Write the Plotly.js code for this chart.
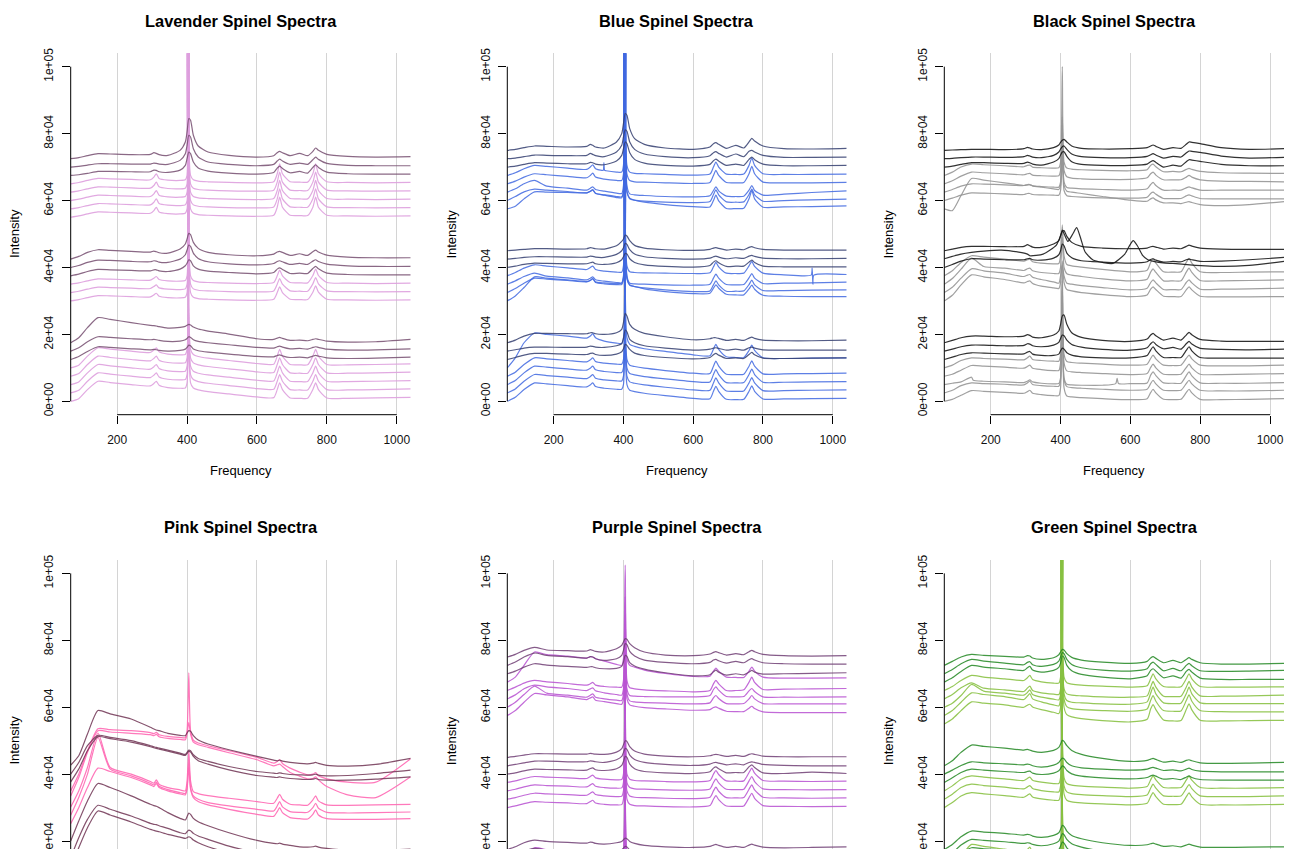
<!DOCTYPE html>
<html><head><meta charset="utf-8">
<script src="https://cdn.plot.ly/plotly-3.0.1.min.js"></script>
<style>html,body{margin:0;padding:0;background:#fff;overflow:hidden}#chart{width:1293px;height:849px}</style>
</head><body><div id="chart"></div>
<script>
// ---------------- DATA (intensities in thousands) ----------------
const freq = [67, 90, 115, 145, 180, 240, 295, 305, 312, 320, 345, 380, 395, 400, 405, 410, 418, 432, 460, 520, 600, 648, 658, 665, 673, 695, 722, 745, 760, 768, 776, 800, 860, 940, 1040];
const yTickVals = [0, 20000, 40000, 60000, 80000, 100000];
const yTickText = ['0e+00', '2e+04', '4e+04', '6e+04', '8e+04', '1e+05'];
const xTickVals = [200, 400, 600, 800, 1000];
const panelTitles = ['Lavender Spinel Spectra', 'Blue Spinel Spectra', 'Black Spinel Spectra', 'Pink Spinel Spectra', 'Purple Spinel Spectra', 'Green Spinel Spectra'];

// Lavender
const lavTopDarkA = [0,0.3,0.9,1.5,1.4, 1.2,1.3,1.8,1.6,1.2, 1.0,2.5,5.0,8.0,12.0, 11.5,7.0,3.8,2.0,1.0, 0.5,0.9,1.8,2.2,1.8, 0.9,1.6,0.9,2.2,3.2, 2.5,1.3,0.7,0.5,0.6];
const lavTopDarkB = [0,0.2,0.6,1.0,1.0, 0.9,0.9,1.2,1.1,0.9, 0.8,2.0,4.0,6.5,9.5, 9.0,5.5,3.0,1.5,0.8, 0.4,0.8,1.8,2.4,1.8, 0.8,1.2,0.8,2.2,3.0, 2.3,1.1,0.5,0.4,0.4];
const lavTopDarkC = [0,0.2,0.6,1.2,1.2, 1.1,1.1,1.6,1.5,1.1, 0.9,1.6,3.0,5.0,7.0, 6.5,4.0,2.2,1.3,0.7, 0.4,0.9,2.2,2.8,2.1, 0.8,1.2,0.7,2.4,3.2, 2.4,1.0,0.5,0.4,0.4];
const lavTopLight = [0,0.4,1.0,1.6,1.5, 1.3,1.2,2.0,3.0,1.6, 1.1,1.0,1.2,2.5,250, 2.5,1.2,0.8,0.6,0.4, 0.3,0.6,3.0,6.0,3.0, 0.6,0.5,0.5,3.0,6.0, 3.0,0.6,0.4,0.3,0.4];
const lavMidDarkA = [0,0.8,2.0,2.8,2.6, 2.3,2.1,2.4,2.2,1.9, 1.8,3.0,4.5,6.0,7.7, 7.3,5.0,3.2,2.0,1.3, 1.0,1.5,2.1,2.3,2.0, 1.1,1.6,1.1,2.2,2.7, 2.1,1.2,0.6,0.4,0.4];
const lavMidDarkB = [0,0.6,1.5,2.2,2.1, 1.8,1.7,2.0,1.9,1.6, 1.5,2.5,3.8,5.2,6.7, 6.3,4.3,2.7,1.7,1.1, 0.8,1.2,1.8,2.0,1.7, 0.9,1.2,0.9,1.9,2.3, 1.8,1.0,0.5,0.3,0.3];
const lavMidDarkC = [0,0.5,1.3,1.9,1.8, 1.6,1.5,1.8,1.8,1.5, 1.3,2.0,3.0,3.8,4.8, 4.5,3.0,2.0,1.4,1.0, 0.6,1.0,2.0,2.4,1.9, 0.7,0.8,0.7,2.2,2.8, 2.1,0.8,0.4,0.3,0.3];
const lavMidLight = [0,0.4,1.0,1.6,1.5, 1.3,1.2,1.8,2.3,1.4, 1.0,0.9,1.1,2.5,250, 2.5,1.1,0.7,0.5,0.3, 0.2,0.5,2.5,4.2,2.5, 0.5,0.4,0.4,2.6,4.5, 2.6,0.5,0.3,0.2,0.3];
const lavBotDarkA = [0,1.5,4.5,7.5,7.0, 6.0,5.2,5.1,5.0,4.8, 4.4,4.6,4.9,5.2,5.5, 5.3,4.7,4.1,3.5,2.6, 1.2,1.0,1.4,1.6,1.3, 0.7,0.8,0.6,1.0,1.2, 1.0,0.5,0.2,0.3,1.0];
const lavBotDarkB = [0,1.0,2.8,4.3,4.1, 3.7,3.4,3.5,3.4,3.2, 2.9,3.0,3.4,3.8,4.3, 4.1,3.4,2.9,2.5,1.9, 1.1,0.9,1.3,1.5,1.2, 0.7,0.8,0.6,1.1,1.3, 1.1,0.6,0.3,0.4,0.7];
const lavBotDarkC = [0,0.9,2.4,3.8,3.6, 3.2,2.9,3.0,2.9,2.7, 2.5,2.7,3.1,3.6,4.3, 4.1,3.1,2.6,2.2,1.6, 0.9,0.8,1.2,1.4,1.1, 0.6,0.7,0.5,1.0,1.2, 1.0,0.5,0.3,0.4,0.7];
const lavBotLight = [0,0.8,3.5,6.0,5.6, 5.0,4.6,5.3,6.0,4.8, 4.1,3.9,4.0,5.5,250, 5.5,4.0,3.4,2.9,2.2, 1.3,1.1,3.5,5.5,3.5, 1.0,0.9,0.9,3.5,5.5, 3.5,1.0,0.9,1.0,1.2];
const lavenderOffsets = [72.5,70,67.5,65,62.5,60,57.5,55, 42.5,40,37.5,35,32.5,30, 17.5,15,12.5,10,7.5,5,2.5,0];
const lavenderShapes = [lavTopDarkA,lavTopDarkB,lavTopDarkC,lavTopLight,lavTopLight,lavTopLight,lavTopLight,lavTopLight,
  lavMidDarkA,lavMidDarkB,lavMidDarkC,lavMidLight,lavMidLight,lavMidLight,
  lavBotDarkA,lavBotDarkB,lavBotDarkC,lavBotLight,lavBotLight,lavBotLight,lavBotLight,lavBotLight];
const lavenderTones = ['d','d','d','l','l','l','l','l','d','d','d','l','l','l','d','d','d','l','l','l','l','l'];

// Blue
const blueTopDarkA = [0,0.3,0.8,1.3,1.2, 1.0,1.2,1.8,1.5,1.0, 0.7,2.5,5.0,8.0,11.0, 10.5,6.5,3.5,1.8,0.7, 0.3,1.0,2.0,2.3,1.8, 0.6,1.5,0.7,2.5,3.6, 2.8,1.3,0.5,0.4,0.6];
const blueTopDarkB = [0,0.2,0.6,1.1,1.0, 0.9,1.0,1.6,1.3,0.9, 0.6,2.0,4.0,6.5,8.6, 8.2,5.0,2.8,1.4,0.6, 0.3,0.9,1.8,2.1,1.6, 0.5,1.4,0.6,2.2,2.5, 2.0,1.0,0.4,0.4,0.5];
const blueTopDarkC = [0,0.3,0.8,1.3,1.2, 1.0,1.0,1.4,1.3,0.9, 0.7,1.8,3.5,5.5,7.5, 7.0,4.3,2.3,1.2,0.5, 0.3,0.8,1.9,2.4,1.8, 0.5,0.9,0.5,2.3,3.0, 2.2,0.9,0.4,0.4,0.5];
const blueTopSpikeFreq = [67,90,115,145,180,240,295,305,312,320,338,342,344,346,350,380,395,400,405,410,418,432,460,520,600,648,658,665,673,695,722,745,760,768,776,800,860,940,1040];
const blueTopSpikeVals = [67.5,68.3,69.5,70.5,70.2,69.7,69.3,70.0,70.7,69.5,69.0,69.0,71.3,69.0,68.9,68.5,68.5,70.5,250,70.5,68.5,68.1,68.0,67.8,67.6,67.9,70.0,71.5,70.0,67.9,67.8,67.9,70.5,72.7,70.5,68.0,67.8,67.8,67.9];
const blueTopLightA = [0,0.8,2.0,3.0,2.7, 2.2,1.8,2.5,3.2,2.0, 1.4,1.0,1.0,3.0,250, 3.0,1.0,0.6,0.5,0.3, 0.1,0.4,2.5,4.0,2.5, 0.4,0.3,0.4,3.0,5.2, 3.0,0.5,0.3,0.3,0.4];
const blueTopLightB = [0,1.0,2.5,3.5,1.8, 1.2,0.6,1.2,1.6,0.8, 0.3,-0.3,-0.4,2.0,250, 2.0,-0.5,-0.8,-1.0,-1.3, -1.4,-1.1,0.5,1.6,0.4, -1.2,-1.3,-1.2,0.6,2.0, 0.5,-0.9,-0.6,-0.1,0.4];
const blueTopLightC = [0,1.2,2.6,3.4,3.1, 2.7,2.3,2.8,3.3,2.2, 1.6,0.9,0.8,3.0,250, 3.0,0.5,0.1,-0.2,-0.5, -0.6,-0.3,1.8,3.2,1.7, -0.4,-0.5,-0.4,1.8,3.4, 1.7,-0.2,0.0,0.2,0.4];
const blueTopLightD = [0,0.8,3.0,5.1,5.0, 4.9,4.8,5.2,5.6,4.6, 4.2,3.7,3.6,5.0,250, 5.0,3.2,2.6,2.0,1.3, 0.7,0.6,2.5,4.1,2.4, 0.1,0.1,0.2,3.0,5.5, 3.0,0.5,0.6,0.7,0.9];
const blueMidDarkA = [0,0.2,0.4,0.6,0.6, 0.5,0.6,0.9,0.8,0.6, 0.5,1.5,2.8,3.5,4.7, 4.4,3.0,1.6,0.8,0.3, 0.1,0.4,0.8,0.9,0.7, 0.2,0.5,0.3,1.0,1.2, 0.9,0.4,0.2,0.2,0.2];
const blueMidDarkB = [0,0.2,0.5,0.7,0.7, 0.6,0.6,0.9,0.8,0.6, 0.5,1.4,2.5,3.4,4.7, 4.4,2.8,1.5,0.7,0.2, 0.0,0.3,0.7,0.9,0.6, 0.1,0.4,0.2,0.9,1.1, 0.8,0.3,0.1,0.1,0.2];
const blueMidDarkC = [0,0.4,0.9,1.3,1.2, 1.1,1.1,1.4,1.6,1.1, 0.9,1.4,2.3,3.2,4.2, 4.0,2.6,1.5,0.8,0.3, 0.1,0.6,1.6,2.0,1.4, 0.3,0.4,0.4,1.6,2.2, 1.5,0.4,0.2,0.2,0.2];
const blueMidSpikeFreq = [67,90,115,145,180,240,295,305,312,320,345,380,395,400,405,410,418,432,460,520,600,648,658,665,673,695,722,745,760,768,776,800,860,938,941,943,946,1040];
const blueMidSpikeVals = [37.5,38.5,39.8,40.8,40.4,39.9,39.4,40.0,40.4,39.4,38.9,38.6,38.6,40.5,250,40.5,38.7,38.5,38.4,38.3,38.2,38.4,40.2,41.5,40.2,38.3,38.2,38.3,40.5,41.8,40.3,38.3,37.8,37.7,39.8,35.0,37.7,37.9];
const blueMidLightA = [0,1.0,2.3,3.3,2.4, 1.9,1.3,1.8,2.2,1.3, 0.9,0.5,0.4,2.5,250, 2.5,0.3,0.1,0.0,-0.2, -0.3,0.0,1.8,3.0,1.8, -0.1,-0.2,-0.1,1.9,3.2, 1.8,0.2,0.3,0.4,0.6];
const blueMidLightB = [0,1.2,2.8,4.3,4.0, 3.6,3.2,3.6,4.1,3.0, 2.6,2.4,2.4,4.0,250, 4.0,2.2,1.8,1.4,0.8, 0.3,0.5,2.3,3.5,2.3, 0.4,0.4,0.5,2.4,3.7, 2.3,0.6,0.6,0.7,0.8];
const blueMidLightC = [0,1.5,4.0,7.2,6.8, 6.3,5.8,6.2,6.7,5.7, 5.4,5.2,5.3,7.0,250, 7.0,4.8,4.3,3.6,2.8, 2.2,2.3,3.8,4.8,3.8, 2.0,1.8,1.8,3.6,4.7, 3.5,1.7,1.4,1.3,1.3];
const blueBotDarkA = [0,0.8,2.0,2.8,2.8, 2.7,2.7,3.0,3.0,2.7, 2.5,3.0,4.0,6.0,8.8, 8.0,5.5,4.0,2.8,1.8, 0.9,1.2,1.5,1.5,1.3, 0.7,1.0,0.7,1.4,1.7, 1.3,0.8,0.6,0.6,0.8];
const blueBotDarkB = [0,0.4,0.9,1.2,1.2, 1.1,1.2,1.5,1.4,1.2, 1.1,1.6,2.2,3.8,6.3, 5.8,3.5,2.5,1.6,0.9, 0.3,0.6,0.9,1.0,0.8, 0.3,0.6,0.3,1.0,1.2, 0.9,0.4,0.3,0.3,0.3];
const blueBotDarkC = [0,0.6,1.3,1.8,1.8, 1.6,1.5,1.8,1.9,1.5, 1.2,1.6,2.3,3.2,4.5, 4.2,3.0,1.9,1.2,0.6, 0.2,0.6,1.4,1.8,1.3, 0.3,0.5,0.3,1.5,2.1, 1.4,0.4,0.3,0.4,0.5];
const blueBotLightX = [0,3.0,7.5,10.4,10.0, 9.5,8.9,9.5,10.2,9.0, 8.0,7.4,7.3,9.0,250, 9.0,7.0,6.4,5.7,4.9, 3.9,3.6,5.6,7.0,5.5, 3.3,3.1,3.1,5.2,6.8, 5.2,3.0,2.8,2.9,3.0];
const blueBotLight = [0,1.2,3.5,5.5,5.2, 4.7,4.3,4.9,5.5,4.4, 3.9,3.6,3.6,5.0,250, 5.0,3.3,2.9,2.4,1.7, 0.9,0.8,3.0,4.5,3.0, 0.6,0.5,0.6,3.0,4.6, 3.0,0.7,0.7,0.8,0.9];
const blueOffsets = [75,72.5,70,0,65,62.5,60,57.5, 45,42.5,40,0,35,32.5,30, 17.5,15,12.5,10,7.5,5,2.5,0];
const blueShapes = [blueTopDarkA,blueTopDarkB,blueTopDarkC,{x:blueTopSpikeFreq,y:blueTopSpikeVals},blueTopLightA,blueTopLightB,blueTopLightC,blueTopLightD,
  blueMidDarkA,blueMidDarkB,blueMidDarkC,{x:blueMidSpikeFreq,y:blueMidSpikeVals},blueMidLightA,blueMidLightB,blueMidLightC,
  blueBotDarkA,blueBotDarkB,blueBotDarkC,blueBotLightX,blueBotLight,blueBotLight,blueBotLight,blueBotLight];
const blueTones = ['d','d','d','l','l','l','l','l','d','d','d','l','l','l','l','d','d','d','l','l','l','l','l'];

// Black
const blackTopDarkA = [0,0.1,0.2,0.3,0.3, 0.2,0.5,0.9,0.7,0.4, 0.2,0.8,1.6,2.4,3.0, 3.3,2.5,1.3,0.6,0.4, 0.5,0.8,1.3,1.6,1.2, 0.3,0.8,0.6,1.8,2.5, 2.4,2.0,0.8,0.3,0.5];
const blackTopDarkB = [0,0.1,0.3,0.5,0.5, 0.4,0.6,1.0,0.8,0.5, 0.3,1.0,2.0,2.9,3.6, 3.8,2.8,1.4,0.6,0.3, 0.3,0.7,1.2,1.5,1.1, 0.2,0.7,0.5,1.7,2.3, 2.2,1.9,0.8,0.2,0.4];
const blackTopDarkC = [0,0.3,0.8,1.3,1.3, 1.1,1.1,1.5,1.3,0.9, 0.6,1.5,2.5,3.6,4.5, 4.6,3.2,1.6,0.8,0.5, 0.5,0.9,1.6,1.9,1.4, 0.0,0.6,0.3,1.6,2.2, 2.1,1.7,0.8,0.4,0.4];
const blackTopLightA = [0,1.0,2.5,3.4,3.2, 2.9,2.6,3.0,3.1,2.5, 2.3,2.2,2.3,4.0,32.5, 4.0,2.2,1.9,1.7,1.5, 1.4,1.7,3.0,3.4,2.6, 1.1,1.2,1.1,1.8,2.1, 1.8,1.2,0.8,0.7,0.6];
const blackTopLightB = [0,0.9,2.3,3.5,3.3, 3.0,2.7,3.0,3.1,2.6, 2.4,2.3,2.4,4.0,20.0, 4.0,2.1,1.7,1.5,1.3, 1.3,1.8,3.0,3.5,2.6, 1.2,1.2,1.2,2.0,2.5, 2.0,1.2,0.8,0.7,0.6];
const blackTopLightC = [0,0.8,1.8,2.5,2.4, 2.2,2.0,2.3,2.3,1.9, 1.7,1.5,1.5,3.0,15.0, 3.0,1.4,1.2,1.0,0.8, 0.6,1.0,2.3,2.9,2.0, 0.6,0.6,0.6,1.3,1.6, 1.3,0.6,0.6,0.6,0.6];
const blackTopLightD = [0,0.7,1.6,2.3,2.2, 2.0,1.8,2.1,2.1,1.8, 1.7,1.6,1.6,3.0,13.0, 3.0,1.4,1.2,1.0,0.8, 0.7,1.0,2.1,2.5,1.9, 0.6,0.6,0.6,1.4,1.7, 1.4,0.6,0.5,0.5,0.5];
const blackTopLightE = [0,-0.5,4.0,9.1,8.6, 7.8,7.0,7.1,7.2,6.9, 6.5,6.0,5.8,7.0,25.0, 7.0,5.3,5.0,4.6,3.7, 2.6,2.3,3.0,3.3,2.7, 1.8,1.8,1.6,2.0,2.2, 1.9,1.3,1.0,1.3,2.2];
const blackMidDarkA = [0,0.5,1.0,1.3,1.3, 1.2,1.3,1.8,1.5,1.1, 1.0,2.0,3.0,4.5,5.8, 6.0,4.3,2.5,1.3,0.8, 0.6,0.8,1.2,1.3,1.1, 0.5,0.8,0.6,1.3,1.7, 1.4,0.8,0.5,0.4,0.4];
const blackOddFreq = [67,90,115,145,180,230,280,305,312,350,388,400,405,412,421,435,446,458,470,493,520,550,584,598,608,620,635,650,666,700,722,770,860,940,1040];
const blackOddVals = [42.6,43.3,44.0,44.5,44.9,45.2,44.6,44.0,43.5,44.0,46.7,49.5,51.2,49.6,47.8,50.0,51.9,48.6,44.7,42.2,41.5,41.2,44.0,46.6,48.0,46.5,43.6,42.3,41.8,41.3,41.2,40.8,40.3,40.6,41.8];
const blackMidDarkC = [0,0.9,1.9,2.6,2.5, 2.3,2.3,2.6,2.7,2.3, 2.2,2.8,3.8,5.0,7.0, 6.5,4.3,2.9,2.0,1.6, 1.3,1.7,2.4,2.6,2.2, 1.6,1.8,1.7,2.3,2.5, 2.3,1.8,1.9,2.3,3.0];
const blackMidLightA = [0,1.5,4.0,6.0,5.6, 5.0,4.4,4.8,5.0,4.2, 3.8,3.6,3.7,6.0,15.2, 6.0,3.4,3.0,2.6,1.9, 1.2,1.7,4.0,5.1,3.8, 1.2,1.1,1.2,4.0,5.2, 3.8,1.2,1.0,1.1,1.2];
const blackMidLightB = [0,1.7,4.5,7.8,5.3, 4.8,4.1,4.6,4.8,4.0, 3.5,3.2,3.2,5.0,14.0, 5.0,3.1,2.7,2.3,1.6, 1.0,1.5,3.6,4.6,3.5, 1.0,1.0,1.0,3.6,4.8, 3.5,1.1,1.0,1.1,1.3];
const blackMidLightC = [0,1.6,4.3,7.1,6.5, 5.8,4.8,5.2,5.4,4.6, 3.9,3.2,2.8,5.0,8.3, 5.0,2.8,2.5,2.1,1.5, 0.8,1.3,3.0,3.8,2.9, 0.9,0.9,0.9,3.0,3.8, 2.9,1.0,1.0,1.1,1.3];
const blackMidLightD = [0,1.7,4.8,7.8,7.2, 6.4,5.4,5.8,6.0,5.2, 4.4,3.9,3.7,5.5,12.0, 5.5,3.4,3.0,2.5,1.9, 1.3,1.8,3.5,4.2,3.4, 1.4,1.3,1.3,3.3,4.2, 3.3,1.4,1.2,1.2,1.3];
const blackBotDarkA = [0,0.7,1.5,2.0,2.0, 1.8,2.0,2.4,2.2,1.7, 1.5,2.3,3.5,5.5,8.0, 8.3,5.5,3.0,1.6,0.7, 0.4,1.1,2.3,2.8,2.1, 0.8,1.4,0.8,2.3,3.1, 2.4,1.0,0.5,0.4,0.4];
const blackBotDarkB = [0,0.6,1.3,1.8,1.8, 1.6,1.7,2.2,2.1,1.6, 1.3,1.8,2.6,3.8,4.8, 4.6,3.3,2.0,1.2,0.5, 0.3,1.0,2.2,2.8,2.0, 0.7,1.1,0.6,2.2,2.9, 2.1,0.8,0.5,0.4,0.6];
const blackBotDarkC = [0,0.7,1.5,2.0,1.9, 1.7,1.7,2.2,2.4,1.6, 1.2,1.2,1.6,2.6,3.4, 3.1,2.0,1.3,0.8,0.5, 0.5,1.2,2.8,3.8,2.6, 0.6,0.6,0.6,2.7,3.8, 2.6,0.6,0.4,0.4,0.4];
const blackBotLightA = [0,0.8,2.2,3.0,2.8, 2.6,2.4,3.0,3.5,2.5, 2.2,2.0,2.0,4.0,25.0, 4.0,1.9,1.6,1.4,1.1, 0.8,1.1,2.8,3.8,2.7, 0.8,0.7,0.8,2.8,3.8, 2.7,0.8,0.6,0.6,0.8];
const blackBotLightB = [0,0.6,1.8,3.2,3.0, 2.7,2.4,2.9,3.3,2.4, 2.0,1.7,1.7,4.0,33.0, 4.0,1.6,1.3,1.1,0.8, 0.5,0.8,2.6,3.6,2.5, 0.6,0.5,0.6,2.6,3.6, 2.5,0.6,0.5,0.6,0.8];
const blackSpikeFreq = [67,90,115,145,150,180,240,295,305,312,320,345,380,395,400,405,410,418,432,460,520,558,562,566,600,648,658,665,673,695,722,745,760,768,776,800,860,940,1040];
const blackSpikeVals = [5.0,5.4,5.8,7.2,6.3,6.0,5.8,5.6,6.0,6.4,5.8,5.4,5.2,5.3,7.0,36.0,7.0,5.1,4.9,4.8,4.8,5.3,6.9,5.3,5.3,5.5,7.8,8.8,7.7,5.5,5.4,5.4,7.7,8.8,7.6,5.5,5.4,5.4,5.6];
const blackOffsets = [75,72.5,70,67.5,65,62.5,60,57.5, 45,0,40,37.5,35,32.5,30, 17.5,15,12.5,10,7.5,0,2.5,0];
const blackShapes = [blackTopDarkA,blackTopDarkB,blackTopDarkC,blackTopLightA,blackTopLightB,blackTopLightC,blackTopLightD,blackTopLightE,
  blackMidDarkA,{x:blackOddFreq,y:blackOddVals},blackMidDarkC,blackMidLightA,blackMidLightB,blackMidLightC,blackMidLightD,
  blackBotDarkA,blackBotDarkB,blackBotDarkC,blackBotLightA,blackBotLightB,{x:blackSpikeFreq,y:blackSpikeVals},blackBotLightA,blackBotLightB];
const blackTones = ['d','d','d','l','l','l','l','l','d','d','d','l','l','l','l','d','d','d','l','l','l','l','l'];

// Pink (absolute values)
const pinkD1 = [42.7,45.5,52,59.0,58.0, 56.5,54.0,53.5,53.2,53.0, 52.2,51.6,51.5,52.3,53.0, 52.8,51.5,50.2,49.0,47.3, 45.3,44.2,44.0,44.2,43.9, 43.5,43.2,43.1,43.3,43.5, 43.2,42.6,42.4,42.9,44.7];
const pinkD2 = [40.0,43.5,48.5,51.6,51.0, 50.0,48.5,48.2,48.0,47.8, 47.2,46.3,45.9,46.5,47.2, 47.0,45.8,44.7,43.8,42.3, 40.8,40.3,40.2,40.4,40.2, 39.9,39.8,39.7,39.8,40.0, 39.7,39.5,39.6,40.2,41.2];
const pinkD3 = [37.7,41.5,47,51.2,50.6, 49.6,48.2,47.9,47.7,47.5, 46.9,46.0,45.6,46.2,46.8, 46.6,45.3,44.0,43.0,41.3, 39.6,39.1,39.0,39.2,39.0, 38.7,38.5,38.4,38.5,38.7, 38.4,38.2,38.2,38.5,39.2];
const pinkP1 = [35.0,40,47,53.6,53.3, 53.0,52.4,52.1,52.5,51.8, 51.3,51.0,50.9,53,70.3, 53,50.2,49.3,48.5,47.0, 45.0,43.3,43.8,44.3,43.2, 41.8,40.6,39.8,40.0,40.5, 39.5,38.6,37.6,37.6,44.6];
const pinkP2 = [33.5,39,46.5,53.0,52.6, 52.2,51.8,51.5,51.9,51.2, 50.7,50.4,50.3,52,55.5, 52,49.6,48.8,48.0,46.4, 44.3,42.5,42.8,43.0,42.3, 40.5,39.4,38.6,38.7,39.2, 38.3,36.3,33.8,33.0,39.2];
const pinkP3 = [30.2,35,42,52.3,42.0, 40.0,37.8,37.3,38.3,37.0, 36.0,35.3,35.0,38,47, 38,34.8,34.2,33.6,32.8, 31.8,31.3,32.8,34.0,32.5, 31.0,30.8,30.7,32.3,33.5, 32.0,30.8,30.7,30.8,31.0];
const pinkP4 = [27.7,33,40,51.0,41.5, 39.5,37.3,36.8,37.6,36.4, 35.4,34.5,34.2,36,44, 36,33.5,32.5,31.5,30.5, 29.5,29.0,30.5,31.8,30.2, 28.8,28.6,28.6,30.0,31.3, 29.8,28.6,28.4,28.5,28.7];
const pinkP5 = [25.2,30,36,41.8,40.8, 39.0,36.8,36.3,37.2,36.0, 35.0,34.1,33.8,35.5,42, 35.5,33.0,31.8,30.8,29.5, 28.0,27.4,28.8,30.0,28.5, 27.0,26.7,26.6,28.0,29.3, 27.8,26.7,26.5,26.5,26.7];
const pinkD4 = [20.0,26,32,37.2,36.0, 33.5,31.0,30.6,30.4,30.0, 28.5,26.8,26.3,27.3,28.4, 28.0,26.8,25.8,24.6,22.5, 20.2,19.3,19.2,19.4,19.1, 18.7,18.3,18.2,18.3,18.5, 18.2,17.8,17.3,17.2,17.6];
const pinkD5 = [15.0,21,26.5,30.7,29.5, 27.5,25.3,25.0,24.9,24.6, 23.8,22.5,22.2,22.8,23.3, 23.1,22.3,21.5,20.5,18.5, 16.5,15.6,15.5,15.7,15.4, 15.0,14.7,14.5,14.6,14.8, 14.5,14.1,13.6,13.4,13.6];
const pinkD6 = [12.0,18,24,29.0,27.8, 25.7,23.5,23.2,23.0,22.8, 22.0,21.2,20.8,21.0,21.3, 21.1,20.3,19.5,18.3,16.5, 14.5,13.6,13.5,13.7,13.4, 13.0,12.7,12.5,12.6,12.8, 12.5,12.1,11.6,11.4,11.5];
const pinkOffsets = [0,0,0,0,0,0,0,0,0,0,0];
const pinkShapes = [pinkD1,pinkD2,pinkD3,pinkP1,pinkP2,pinkP3,pinkP4,pinkP5,pinkD4,pinkD5,pinkD6];
const pinkTones = ['d','d','d','l','l','l','l','l','d','d','d'];

// Purple
const purTopDarkA = [0,0.8,2.0,2.9,2.1, 1.9,1.8,2.2,2.0,1.7, 1.5,2.5,3.5,4.5,5.5, 5.3,4.0,2.8,1.5,0.6, 0.4,0.9,1.4,1.6,1.3, 0.6,1.0,0.7,1.6,2.0, 1.6,0.8,0.4,0.3,0.4];
const purTopDarkB = [0,1.0,2.5,3.7,3.0, 2.6,2.2,2.6,2.5,2.0, 1.5,2.0,3.0,4.5,6.5, 6.2,4.2,2.8,1.6,0.9, 0.5,0.9,1.6,1.8,1.4, 0.7,1.2,0.8,1.7,2.0, 1.6,0.8,0.5,0.4,0.4];
const purTopDarkC = [0,0.8,2.0,3.0,2.6, 2.2,1.9,2.1,2.1,1.8, 1.5,1.6,2.2,3.5,5.5, 5.2,3.3,2.3,1.4,0.3, -0.6,-0.3,0.6,1.1,0.5, -0.4,0.0,-0.3,0.5,1.0, 0.5,-0.1,0.0,0.1,0.3];
const purTopLightA = [0,1.5,5.0,9.0,8.2, 7.8,7.2,7.6,7.5,7.0, 6.3,5.3,5.0,7.0,35.0, 7.0,5.0,4.5,3.6,2.6, 1.7,1.8,3.3,4.2,3.3, 1.5,1.4,1.4,3.3,4.5, 3.3,1.5,1.2,1.2,1.3];
const purTopLightB = [0,1.0,2.2,3.0,2.6, 2.1,1.6,2.0,2.4,1.6, 1.2,1.0,1.0,3.0,28.0, 3.0,0.8,0.5,0.2,-0.1, -0.4,0.0,2.0,3.0,2.0, 0.0,0.0,0.2,2.5,4.0, 2.4,0.3,0.4,0.5,0.6];
const purTopLightC = [0,1.2,3.0,4.1,3.6, 3.1,2.5,3.0,3.3,2.4, 1.8,1.3,1.1,3.0,25.0, 3.0,1.0,0.8,0.7,0.6, 0.6,1.0,2.8,3.6,2.6, 0.7,0.6,0.7,2.4,3.1, 2.2,0.6,0.5,0.5,0.6];
const purTopLightD = [0,1.5,3.8,6.3,4.2, 3.6,3.0,3.6,4.0,3.0, 2.5,2.1,2.0,4.0,22.0, 4.0,1.9,1.6,1.4,1.2, 1.0,1.3,2.8,3.5,2.6, 1.1,1.0,1.1,2.5,3.5, 2.5,1.1,1.0,1.0,1.0];
const purTopLightE = [0,1.5,4.0,6.6,6.2, 5.6,4.8,5.3,5.6,4.6, 4.2,3.6,3.4,5.0,20.0, 5.0,3.2,2.8,2.4,2.0, 1.6,1.8,2.4,2.6,2.2, 1.3,1.2,1.2,2.2,2.8, 2.1,1.1,0.9,0.9,0.9];
const purMidDarkA = [0,0.3,0.7,1.1,1.1, 1.0,1.0,1.2,1.1,1.0, 0.9,1.6,2.6,3.8,5.0, 4.8,3.2,1.9,1.0,0.4, 0.2,0.5,0.8,0.9,0.8, 0.3,0.6,0.3,0.9,1.1, 0.9,0.4,0.2,0.2,0.2];
const purMidDarkB = [0,0.4,0.9,1.4,1.4, 1.2,1.2,1.5,1.4,1.2, 1.0,1.8,2.8,4.0,5.2, 4.9,3.2,1.9,1.0,0.4, 0.1,0.5,0.9,1.0,0.8, 0.3,0.6,0.3,1.0,1.2, 1.0,0.4,0.1,0.0,0.0];
const purMidDarkC = [0,0.4,1.0,1.5,1.4, 1.3,1.2,1.7,1.9,1.3, 1.1,1.6,2.6,3.8,5.3, 5.0,3.0,1.6,0.8,0.4, 0.2,0.7,1.8,2.2,1.6, 0.4,0.5,0.5,2.2,2.8, 2.0,0.4,0.2,0.6,0.2];
const purMidLight = [0,0.5,1.2,1.8,1.6, 1.4,1.2,1.8,2.2,1.4, 1.0,0.8,0.9,2.5,45.0, 2.5,1.0,0.6,0.5,0.3, 0.2,0.6,2.5,3.6,2.4, 0.5,0.4,0.5,3.0,4.3, 2.8,0.6,0.4,0.3,0.4];
const purBotDark = [0,0.8,2.0,2.8,2.4, 2.1,1.9,2.2,2.1,1.8, 1.6,2.0,2.4,2.9,3.4, 3.2,2.4,1.8,1.2,0.8, 0.6,0.9,1.3,1.5,1.2, 0.6,0.9,0.6,1.3,1.6, 1.3,0.7,0.5,0.6,0.8];
const purBotLight = [0,1.5,4.5,8.0,7.4, 6.5,5.8,6.4,6.8,5.7, 5.0,4.6,4.6,6.0,60.0, 6.0,4.5,3.8,3.2,2.4, 1.5,1.5,3.5,5.0,3.5, 1.3,1.2,1.2,3.5,5.0, 3.4,1.2,1.1,1.2,1.4];
const purpleOffsets = [75,72.5,70,67.5,65,62.5,60,57.5, 45,42.5,40,37.5,35,32.5,30, 17.5,15,12.5,10,7.5,5,2.5,0];
const purpleShapes = [purTopDarkA,purTopDarkB,purTopDarkC,purTopLightA,purTopLightB,purTopLightC,purTopLightD,purTopLightE,
  purMidDarkA,purMidDarkB,purMidDarkC,purMidLight,purMidLight,purMidLight,purMidLight,
  purBotDark,purBotDark,purBotDark,purBotLight,purBotLight,purBotLight,purBotLight,purBotLight];
const purpleTones = ['d','d','d','l','l','l','l','l','d','d','d','l','l','l','l','d','d','d','l','l','l','l','l'];

// Green
const grTopDarkA = [0,1.2,2.5,3.3,3.0, 2.7,2.5,2.9,2.8,2.2, 1.8,2.3,3.2,4.0,4.8, 4.6,3.5,2.4,1.6,1.0, 0.6,1.2,2.2,2.6,2.1, 0.8,1.5,0.8,1.8,2.3, 1.8,0.8,0.4,0.4,0.6];
const grTopDarkB = [0,1.3,3.0,4.3,3.8, 3.2,2.7,3.4,3.6,2.7, 2.2,2.8,3.8,5.0,6.3, 6.0,4.3,2.8,1.8,1.1, 0.8,1.5,3.0,3.5,2.8, 0.9,1.6,0.9,2.5,3.1, 2.4,0.9,0.7,0.8,1.0];
const grTopDarkC = [0,1.3,3.2,5.0,4.5, 4.0,3.5,4.3,4.7,3.6, 3.0,3.5,4.4,5.7,7.8, 7.4,5.0,3.4,2.3,1.5, 1.0,1.9,3.5,4.0,3.3, 1.3,1.9,1.2,3.2,3.8, 3.0,1.2,0.8,0.8,0.8];
const grTopLightA = [0,1.2,3.0,4.5,4.0, 3.5,3.0,3.8,4.5,3.3, 2.6,2.2,2.2,4.0,250, 4.0,2.3,1.9,1.6,1.3, 1.0,1.4,3.5,5.0,3.5, 1.2,1.0,1.1,3.5,5.0, 3.5,1.2,1.0,1.0,1.1];
const grTopLightB = [0,1.3,3.3,4.8,3.2, 2.7,2.2,3.2,3.8,2.5, 1.8,1.4,1.3,3.0,250, 3.0,1.5,1.1,0.9,0.6, 0.5,0.9,3.5,5.2,3.5, 0.8,0.7,0.8,3.5,5.2, 3.5,0.9,0.8,0.9,1.1];
const grTopLightC = [0,1.2,3.5,6.8,4.8, 4.2,3.6,4.4,5.2,3.8, 3.0,2.4,2.2,4.0,250, 4.0,2.0,1.5,1.3,1.0, 0.9,1.6,4.2,6.0,4.0, 1.3,1.1,1.2,4.0,6.0, 4.0,1.3,1.1,1.1,1.1];
const grTopLightD = [0,1.5,4.0,6.8,6.3, 5.7,4.8,5.8,6.6,5.0, 4.1,3.2,2.9,5.0,250, 5.0,2.7,2.1,1.8,1.5, 1.3,2.0,4.5,6.0,4.3, 1.5,1.3,1.4,4.5,6.2, 4.3,1.5,1.2,1.1,1.1];
const grTopLightE = [0,1.5,4.0,6.6,6.2, 5.7,5.0,5.6,5.9,5.1, 4.3,3.5,3.1,5.0,250, 5.0,2.8,2.1,1.6,1.0, 0.6,1.4,4.5,5.8,4.3, 1.2,0.9,1.0,4.3,6.0, 4.2,1.1,0.9,1.0,1.1];
const grMidDarkA = [0,1.5,4.0,6.2,5.8, 5.3,4.7,4.9,4.7,4.4, 4.0,4.6,5.5,6.5,7.6, 7.3,6.0,4.6,3.4,2.2, 1.3,1.6,2.0,2.2,1.9, 1.1,1.4,1.0,1.6,1.8, 1.5,0.9,0.7,0.8,1.0];
const grMidDarkB = [0,1.2,2.6,3.7,3.4, 3.1,2.8,3.0,2.9,2.5, 2.1,2.7,3.5,4.2,4.8, 4.6,3.5,2.5,1.9,1.5, 1.2,1.5,1.9,2.0,1.8, 1.1,1.3,1.0,1.5,1.8, 1.4,0.9,0.7,0.7,0.7];
const grMidDarkC = [0,1.4,3.0,4.0,3.7, 3.3,3.0,3.3,3.4,2.8, 2.4,2.8,3.5,4.2,5.0, 4.7,3.6,2.6,1.9,1.4, 1.1,1.5,2.0,2.2,1.9, 1.0,1.2,0.9,1.6,2.0, 1.5,0.9,0.7,0.7,0.7];
const grMidLight = [0,1.5,3.5,4.5,4.1, 3.6,3.1,3.7,4.1,3.2, 2.6,2.2,2.2,4.0,250, 4.0,2.2,1.7,1.4,1.1, 0.8,1.3,3.3,4.5,3.3, 1.0,0.9,1.0,3.2,4.4, 3.2,1.0,0.8,0.8,1.0];
const grBotDark = [0,1.5,3.8,5.5,5.2, 4.8,4.3,4.5,4.4,4.0, 3.6,4.2,5.0,6.0,7.2, 6.9,5.5,4.2,3.2,2.0, 1.2,1.4,1.7,1.9,1.6, 0.9,1.1,0.8,1.3,1.6, 1.3,0.7,0.6,0.7,0.8];
const grBotLight = [0,2.0,5.5,9.0,8.4, 7.6,6.8,7.5,8.2,6.6, 5.8,5.2,5.2,7.0,250, 7.0,5.0,4.4,3.8,2.9, 2.0,2.2,4.5,6.0,4.5, 1.8,1.6,1.7,4.5,6.0, 4.4,1.7,1.5,1.5,1.6];
const greenOffsets = [72.5,70,67.5,65,62.5,60,57.5,55, 42.5,40,37.5,35,32.5,30, 17.5,15,12.5,10,7.5,5,2.5,0];
const greenShapes = [grTopDarkA,grTopDarkB,grTopDarkC,grTopLightA,grTopLightB,grTopLightC,grTopLightD,grTopLightE,
  grMidDarkA,grMidDarkB,grMidDarkC,grMidLight,grMidLight,grMidLight,
  grBotDark,grBotDark,grBotDark,grBotLight,grBotLight,grBotLight,grBotLight,grBotLight];
const greenTones = ['d','d','d','l','l','l','l','l','d','d','d','l','l','l','d','d','d','l','l','l','l','l'];

// ---------------- STYLE / LAYOUT ----------------
const W = 1293, H = 849;
const FONT = 'Liberation Sans, Arial, Helvetica, sans-serif';
const palette = [
  {d: 'rgba(118,78,112,0.85)', l: 'rgba(222,160,222,0.9)'},
  {d: 'rgba(52,62,112,0.85)',  l: 'rgba(65,105,225,0.85)'},
  {d: 'rgba(20,20,20,0.88)',   l: 'rgba(150,150,150,0.9)'},
  {d: 'rgba(112,52,84,0.85)',  l: 'rgba(255,105,180,0.9)'},
  {d: 'rgba(112,62,116,0.85)', l: 'rgba(186,85,211,0.88)'},
  {d: 'rgba(34,135,34,0.85)',  l: 'rgba(135,192,65,0.88)'}
];
const panelData = [
  [lavenderOffsets, lavenderShapes, lavenderTones],
  [blueOffsets, blueShapes, blueTones],
  [blackOffsets, blackShapes, blackTones],
  [pinkOffsets, pinkShapes, pinkTones],
  [purpleOffsets, purpleShapes, purpleTones],
  [greenOffsets, greenShapes, greenTones]
];
const colPx = [[70.7, 410.7], [507.3, 846.7], [944.3, 1284]];
const rowPx = [[53.3, 414.7], [560, 849]];
const unitsPerPx = 108000 / 361.4;
const yRanges = [[-4000, 104000], [104000 - (rowPx[1][1] - rowPx[1][0]) * unitsPerPx, 104000]];
const xRange = [67, 1040];

const traces = [];
const layout = {
  width: W, height: H, margin: {l: 0, r: 0, t: 0, b: 0},
  paper_bgcolor: '#fff', plot_bgcolor: '#fff', showlegend: false, hovermode: false,
  font: {family: FONT, size: 12, color: '#000'},
  annotations: [], shapes: []
};

panelData.forEach((pd, k) => {
  const [offsets, shapes, tones] = pd;
  const row = Math.floor(k / 3), col = k % 3;
  const sfx = k === 0 ? '' : String(k + 1);
  const xa = 'x' + sfx, ya = 'y' + sfx;
  const order = [];
  tones.forEach((t, i) => { if (t === 'l') order.push(i); });
  tones.forEach((t, i) => { if (t === 'd') order.push(i); });
  order.forEach(i => {
    const s = shapes[i];
    let xs, ys;
    if (Array.isArray(s)) { xs = freq; ys = s.map(v => (v + offsets[i]) * 1000); }
    else { xs = s.x; ys = s.y.map(v => (v + offsets[i]) * 1000); }
    traces.push({type: 'scatter', mode: 'lines', x: xs, y: ys, xaxis: xa, yaxis: ya,
      line: {color: palette[k][tones[i]], width: 1.2, shape: 'spline', smoothing: 0.6}, hoverinfo: 'skip'});
  });

  const [l, r] = colPx[col], [t, b] = rowPx[row];
  layout['xaxis' + sfx] = {
    domain: [l / W, r / W], range: xRange, anchor: ya,
    tickvals: xTickVals, showgrid: true, gridcolor: 'rgb(212,212,212)', gridwidth: 1,
    zeroline: false, showline: false,
    ticks: row === 0 ? 'outside' : '', ticklen: 8, tickwidth: 1, tickcolor: '#000',
    showticklabels: row === 0, ticklabelstandoff: 6,
    tickfont: {family: FONT, size: 12, color: '#111'}, fixedrange: true
  };
  layout['yaxis' + sfx] = {
    domain: [1 - b / H, 1 - t / H], range: yRanges[row], anchor: xa,
    tickvals: yTickVals, ticktext: yTickText, tickangle: -90,
    showgrid: false, zeroline: false, showline: false, ticklabeloverflow: 'allow',
    ticks: 'outside', ticklen: 8, tickwidth: 1, tickcolor: '#000', ticklabelstandoff: 4,
    tickfont: {family: FONT, size: 12, color: '#111'}, fixedrange: true
  };

  // R-style axis lines (from first to last tick only)
  const yr = yRanges[row];
  const valToPy = v => b - (v - yr[0]) / unitsPerPx;
  const valToPx = v => l + (v - xRange[0]) * (r - l) / (xRange[1] - xRange[0]);
  layout.shapes.push({type: 'line', xref: 'paper', yref: 'paper',
    x0: l / W, x1: l / W, y0: 1 - valToPy(0) / H, y1: 1 - valToPy(100000) / H,
    line: {color: '#000', width: 1}});
  if (row === 0) {
    layout.shapes.push({type: 'line', xref: 'paper', yref: 'paper',
      x0: valToPx(200) / W, x1: valToPx(1000) / W, y0: 1 - b / H, y1: 1 - b / H,
      line: {color: '#000', width: 1}});
  }

  const cx = (l + r) / 2;
  layout.annotations.push({text: '<b>' + panelTitles[k] + '</b>', xref: 'paper', yref: 'paper',
    x: cx / W, y: 1 - (row === 0 ? 21 : 527.3) / H, xanchor: 'center', yanchor: 'middle',
    showarrow: false, font: {family: FONT, size: 16.4, color: '#000'}});
  if (row === 0) {
    layout.annotations.push({text: 'Frequency', xref: 'paper', yref: 'paper',
      x: cx / W, y: 1 - 471 / H, xanchor: 'center', yanchor: 'middle',
      showarrow: false, font: {family: FONT, size: 13, color: '#000'}});
  }
  layout.annotations.push({text: 'Intensity', xref: 'paper', yref: 'paper',
    x: (l - 55.7) / W, y: 1 - ((t + (row === 0 ? b : 921.2)) / 2) / H, xanchor: 'center', yanchor: 'middle',
    textangle: -90, showarrow: false, font: {family: FONT, size: 13, color: '#000'}});
});

Plotly.newPlot('chart', traces, layout, {staticPlot: true, displayModeBar: false});
</script>
</body></html>
